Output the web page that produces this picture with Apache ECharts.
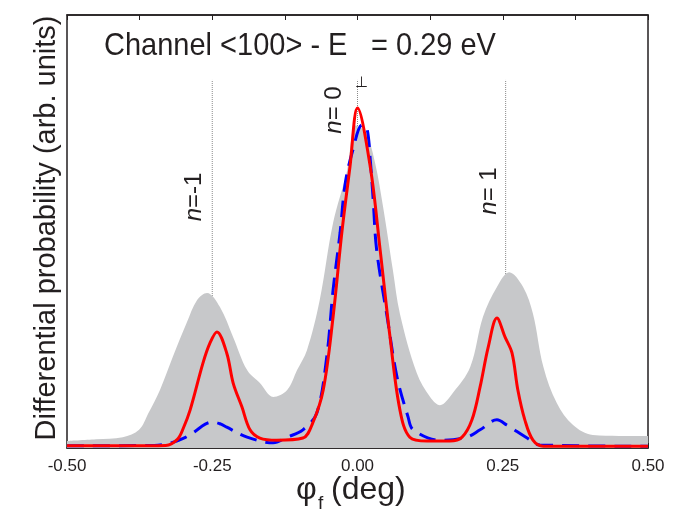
<!DOCTYPE html>
<html>
<head>
<meta charset="utf-8">
<script src="https://cdn.jsdelivr.net/npm/echarts@6/dist/echarts.min.js"></script>
<style>
  html, body { margin: 0; padding: 0; background: #fff; }
  #chart { width: 685px; height: 517px; }
</style>
</head>
<body>
<div id="chart"></div>
<script>
// Experimental angular distribution (grey band)
const expPhi = [-0.5, -0.45, -0.404, -0.376, -0.36, -0.34, -0.318, -0.294, -0.276, -0.259, -0.237, -0.214, -0.19, -0.168, -0.145, -0.121, -0.104, -0.087, -0.065, -0.042, -0.018, -0.003, 0.014, 0.03, 0.044, 0.061, 0.073, 0.102, 0.125, 0.142, 0.164, 0.194, 0.216, 0.24, 0.261, 0.285, 0.302, 0.32, 0.343, 0.371, 0.405, 0.45, 0.5];
const expProb = [0.016, 0.02, 0.025, 0.042, 0.08, 0.134, 0.21, 0.289, 0.342, 0.358, 0.326, 0.256, 0.18, 0.15, 0.118, 0.134, 0.18, 0.226, 0.342, 0.52, 0.64, 0.745, 0.73, 0.66, 0.557, 0.41, 0.31, 0.173, 0.118, 0.099, 0.127, 0.187, 0.303, 0.372, 0.406, 0.372, 0.31, 0.187, 0.104, 0.053, 0.03, 0.028, 0.028];

// Calculation, solid red curve
const redPhi = [-0.5, -0.4, -0.33, -0.31, -0.3, -0.288, -0.266, -0.254, -0.242, -0.225, -0.214, -0.199, -0.185, -0.168, -0.139, -0.094, -0.077, -0.059, -0.042, -0.027, -0.013, 0, 0.022, 0.039, 0.056, 0.073, 0.09, 0.12, 0.159, 0.18, 0.197, 0.211, 0.225, 0.24, 0.254, 0.266, 0.276, 0.288, 0.302, 0.32, 0.5];
const redProb = [0.005, 0.005, 0.006, 0.02, 0.045, 0.088, 0.196, 0.242, 0.268, 0.219, 0.15, 0.095, 0.042, 0.023, 0.018, 0.023, 0.058, 0.134, 0.303, 0.497, 0.649, 0.785, 0.649, 0.457, 0.256, 0.088, 0.025, 0.016, 0.016, 0.025, 0.065, 0.141, 0.233, 0.3, 0.256, 0.219, 0.134, 0.065, 0.018, 0.004, 0.004];

// Calculation, dashed blue curve
const bluePhi = [-0.5, -0.35, -0.32, -0.3, -0.283, -0.262, -0.249, -0.235, -0.225, -0.19, -0.145, -0.121, -0.094, -0.07, -0.053, -0.042, -0.03, -0.021, -0.008, 0.008, 0.016, 0.022, 0.027, 0.033, 0.051, 0.068, 0.087, 0.096, 0.142, 0.188, 0.211, 0.24, 0.257, 0.292, 0.314, 0.5];
const blueProb = [0.005, 0.006, 0.012, 0.022, 0.035, 0.055, 0.06, 0.055, 0.048, 0.025, 0.012, 0.025, 0.042, 0.081, 0.21, 0.365, 0.497, 0.612, 0.688, 0.746, 0.74, 0.665, 0.573, 0.457, 0.303, 0.164, 0.072, 0.042, 0.018, 0.025, 0.042, 0.065, 0.053, 0.023, 0.007, 0.004];

// Diffraction orders
const orderPhi = [-0.25, 0, 0.255];
const orderLabel = ['-1', ' 0', ' 1'];
const orderTop = 0.85;

const xTicks = ['-0.50', '-0.25', '0.00', '0.25', '0.50'];

const zip = (xs, ys) => xs.map((x, i) => [x, ys[i]]);
const FONT = 'Liberation Sans, Arial, Helvetica, sans-serif';
const INK = '#231f20';

const chart = echarts.init(document.getElementById('chart'), null, { renderer: 'canvas' });

const axisCommon = {
  type: 'value', min: -0.5, max: 0.5, interval: 0.125,
  axisLine: { show: true, lineStyle: { color: INK, width: 1.5 } },
  axisTick: { show: true, inside: true, length: 5, lineStyle: { color: INK, width: 1 } },
  splitLine: { show: false }
};

const series = [];
orderPhi.forEach((p) => {
  series.push({
    type: 'line', z: 1, symbol: 'none', silent: true,
    data: [[p, 0], [p, orderTop]],
    lineStyle: { color: '#8a8a8a', width: 1, type: [1, 1] }
  });
});
series.push({
  type: 'line', z: 2, smooth: 0.35, symbol: 'none', silent: true,
  data: zip(expPhi, expProb),
  lineStyle: { width: 0 },
  areaStyle: { color: '#c7c8ca', opacity: 1 }
});
series.push({
  type: 'line', z: 3, smooth: 0.35, symbol: 'none', silent: true,
  data: zip(bluePhi, blueProb),
  lineStyle: { color: '#0000ff', width: 3, type: [17, 9] }
});
series.push({
  type: 'line', z: 4, smooth: 0.35, symbol: 'none', silent: true,
  data: zip(redPhi, redProb),
  lineStyle: { color: '#ff0000', width: 3 }
});

chart.setOption({
  animation: false,
  backgroundColor: '#fff',
  grid: { left: 67, right: 37, top: 15, bottom: 69, show: true, borderColor: INK, borderWidth: 1.5 },
  xAxis: [
    Object.assign({}, axisCommon, {
      position: 'bottom',
      axisLabel: {
        show: true, margin: 10, color: INK, fontFamily: FONT, fontSize: 17,
        showMinLabel: true, showMaxLabel: true,
        formatter: (v) => {
          const k = Math.round(v * 4);
          if (Math.abs(v * 4 - k) > 1e-6) return '';
          return xTicks[k + 2];
        }
      }
    }),
    Object.assign({}, axisCommon, { position: 'top', axisLabel: { show: false } })
  ],
  yAxis: {
    type: 'value', min: 0, max: 1,
    axisLine: { show: false }, axisTick: { show: false },
    axisLabel: { show: false }, splitLine: { show: false }
  },
  series: series
});

const graphics = [];
// Title
graphics.push({
  type: 'text', x: 104, y: 47, scaleY: 1.06,
  style: { text: 'Channel <100> - E', font: '29px ' + FONT, fill: INK, textAlign: 'left', textVerticalAlign: 'middle' }
});
graphics.push({
  type: 'text', x: 361, y: 83,
  style: { text: '\u22A5', font: '15px ' + FONT, fill: INK, textAlign: 'center', textVerticalAlign: 'middle' }
});
graphics.push({
  type: 'text', x: 371, y: 47, scaleY: 1.06,
  style: { text: '= 0.29 eV', font: '29px ' + FONT, fill: INK, textAlign: 'left', textVerticalAlign: 'middle' }
});
// Axis titles
graphics.push({
  type: 'text', x: 47, y: 228, rotation: Math.PI / 2,
  style: { text: 'Differential probability (arb. units)', font: '29px ' + FONT, fill: INK, textAlign: 'center', textVerticalAlign: 'middle' }
});
graphics.push({
  type: 'text', x: 296, y: 490,
  style: { text: '\u03C6', font: '32px ' + FONT, fill: INK, textAlign: 'left', textVerticalAlign: 'middle' }
});
graphics.push({
  type: 'text', x: 318, y: 504,
  style: { text: 'f', font: '19px ' + FONT, fill: INK, textAlign: 'left', textVerticalAlign: 'middle' }
});
graphics.push({
  type: 'text', x: 331, y: 490,
  style: { text: '(deg)', font: '32px ' + FONT, fill: INK, textAlign: 'left', textVerticalAlign: 'middle' }
});
// Order labels, placed beside each dotted line
const labelY = [197, 110, 191];
const labelDx = [-18, -23, -16];
orderPhi.forEach((p, i) => {
  const px = chart.convertToPixel({ xAxisIndex: 0 }, p);
  graphics.push({
    type: 'text', x: px + labelDx[i], y: labelY[i], rotation: Math.PI / 2,
    style: {
      text: '{i|n}{t|=' + orderLabel[i] + '}',
      textAlign: 'center', textVerticalAlign: 'middle',
      rich: {
        i: { font: 'italic 24px ' + FONT, fill: INK },
        t: { font: '24px ' + FONT, fill: INK }
      }
    }
  });
});
chart.setOption({ graphic: graphics });
</script>
</body>
</html>
